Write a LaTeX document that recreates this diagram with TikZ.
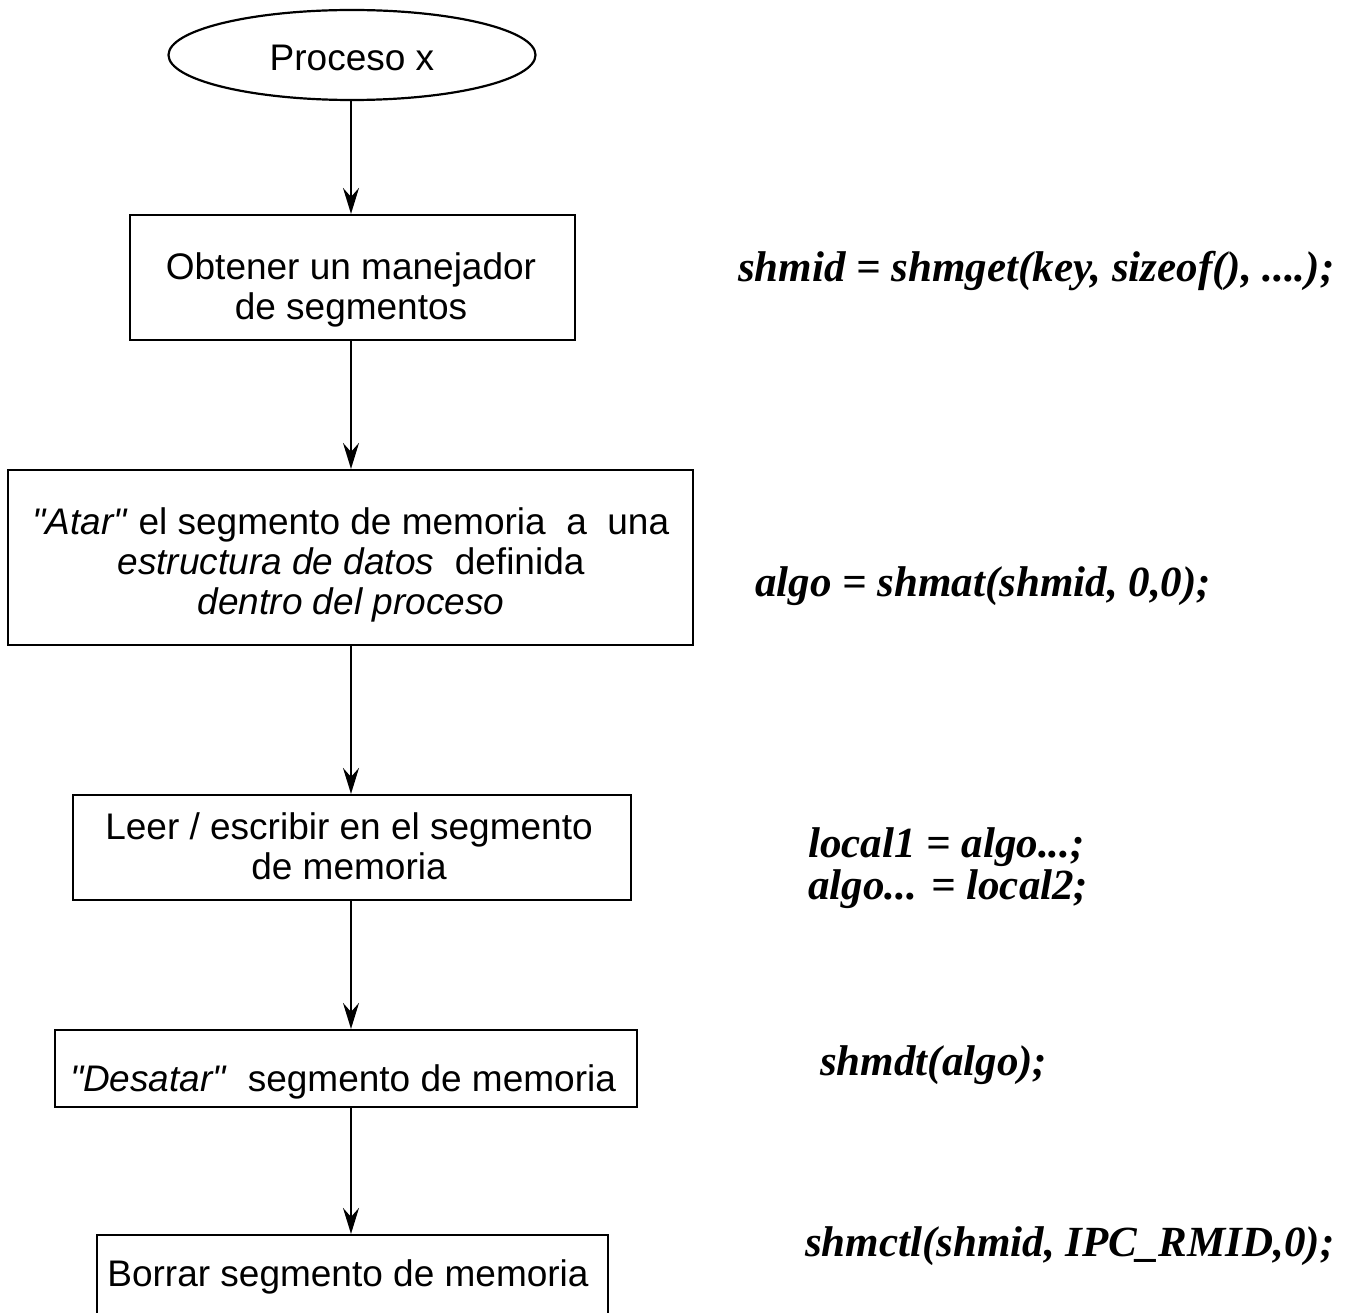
\documentclass[tikz,border=0pt]{standalone}
\usepackage{fontspec}
\setmainfont{Liberation Sans}[Ligatures=TeXOff]
\newfontfamily\codefont{Liberation Serif}
\usetikzlibrary{shapes.geometric,arrows.meta}
\begin{document}
\begin{tikzpicture}[x=1pt,y=-1pt,
  every node/.style={font=\fontsize{37}{40}\selectfont},
  stepbox/.style={draw,line width=2.2pt,rectangle,inner sep=0pt},
  boxtext/.style={inner sep=0pt,align=center},
  codetext/.style={anchor=base west,inner sep=0pt,font=\fontsize{43}{40}\selectfont\codefont\bfseries\itshape},
  flow/.style={line width=2pt,-{Stealth[length=26pt,width=16pt,inset=9pt]}}]
\useasboundingbox (0,0) rectangle (1348,1313);
\node[draw,line width=2.2pt,ellipse,minimum width=367pt,minimum height=90pt,inner sep=0pt] (e) at (352,55) {};
\node[boxtext] (t0) at (352,58) {Proceso x};
\node[stepbox,minimum width=445pt,minimum height=125pt] (b1) at (352.5,277.5) {};
\node[boxtext] (t1) at (351,289.5) {Obtener un manejador\\de segmentos};
\node[stepbox,minimum width=685pt,minimum height=175pt] (b2) at (350.5,557.5) {};
\node[boxtext] (t2) at (351,564.5) {\textit{"Atar"} el segmento de memoria\ \ a\ \ una\\\textit{estructura de datos}\ \ definida\\\textit{dentro del proceso}};
\node[stepbox,minimum width=558pt,minimum height=105pt] (b3) at (352,847.5) {};
\node[boxtext] (t3) at (349,846.5) {Leer / escribir en el segmento\\de memoria};
\node[stepbox,minimum width=582pt,minimum height=77pt] (b4) at (346,1068.5) {};
\node[boxtext] (t4) at (343,1081.5) {\textit{"Desatar"}\ \ segmento de memoria};
\node[stepbox,minimum width=511pt,minimum height=160pt] (b5) at (352.5,1315) {};
\node[boxtext] (t5) at (348,1277) {Borrar segmento de memoria};
\draw[flow] (e.south -| 351,0) -- (b1.north -| 351,0);
\draw[flow] (b1.south -| 351,0) -- (b2.north -| 351,0);
\draw[flow] (b2.south -| 351,0) -- (b3.north -| 351,0);
\draw[flow] (b3.south -| 351,0) -- (b4.north -| 351,0);
\draw[flow] (b4.south -| 351,0) -- (b5.north -| 351,0);
\node[codetext] (c1) at (738,282) {shmid = shmget(key, sizeof(), ....);};
\node[codetext] (c2) at (755,596) {algo = shmat(shmid, 0,0);};
\node[codetext] (c3) at (808,857) {local1 = algo...;};
\node[codetext] (c4) at (808,899) {algo... = local2;};
\node[codetext] (c5) at (820,1075) {shmdt(algo);};
\node[codetext] (c6) at (805,1256) {shmctl(shmid, IPC\_RMID,0);};
\end{tikzpicture}
\end{document}
